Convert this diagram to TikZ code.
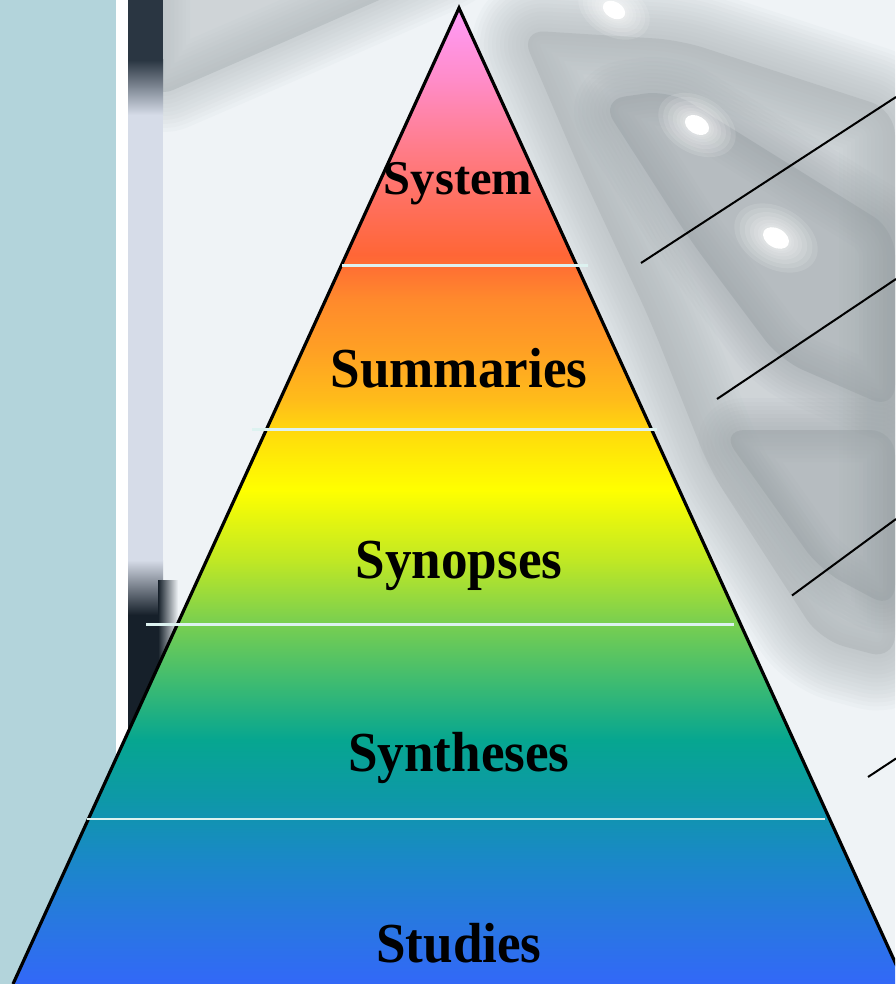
\documentclass[tikz,border=0pt]{standalone}
\usepackage{fontspec}
\setmainfont{Liberation Serif}
\newfontfamily\pyrfont[FakeStretch=0.94]{Liberation Serif}
\usetikzlibrary{calc}
\definecolor{panel}{HTML}{B3D4DB}
\definecolor{photobg}{HTML}{EFF3F6}
\definecolor{stripdark}{HTML}{2A3642}
\definecolor{stripdeep}{HTML}{16202A}
\definecolor{striplight}{HTML}{D6DCE8}
\definecolor{greyA}{HTML}{A9B0B3}
\definecolor{greyB}{HTML}{98A0A4}
\definecolor{sepline}{HTML}{DDF2F0}
% pyramid gradient colours (top to bottom)
\definecolor{p008}{HTML}{FF9CFA}
\definecolor{p080}{HTML}{FF8CC8}
\definecolor{p150}{HTML}{FF7C88}
\definecolor{p200}{HTML}{FF7060}
\definecolor{p255}{HTML}{FF6636}
\definecolor{p300}{HTML}{FF8A2C}
\definecolor{p350}{HTML}{FFA024}
\definecolor{p400}{HTML}{FFBC1A}
\definecolor{p440}{HTML}{FFE00A}
\definecolor{p490}{HTML}{FFFF00}
\definecolor{p560}{HTML}{C0E824}
\definecolor{p620}{HTML}{7CD04E}
\definecolor{p680}{HTML}{40BC70}
\definecolor{p740}{HTML}{06A690}
\definecolor{p800}{HTML}{0E98A8}
\definecolor{p860}{HTML}{1A88C8}
\definecolor{p920}{HTML}{2878E0}
\definecolor{p984}{HTML}{3268F8}
\pgfdeclareverticalshading{pyrshade}{100bp}{%
color(0bp)=(p984); color(25bp)=(p984);
color(28.28bp)=(p920); color(31.35bp)=(p860);
color(34.43bp)=(p800); color(37.5bp)=(p740);
color(40.57bp)=(p680); color(43.65bp)=(p620);
color(46.72bp)=(p560); color(50.31bp)=(p490);
color(52.87bp)=(p440); color(54.92bp)=(p400);
color(57.48bp)=(p350); color(60.04bp)=(p300);
color(62.35bp)=(p255); color(65.16bp)=(p200);
color(67.73bp)=(p150); color(71.31bp)=(p080);
color(75bp)=(p008); color(100bp)=(p008)}
\newcommand\softshape[3]{%
  \foreach \w in {#3}{\draw[#1,opacity=0.06,line width=\w pt,line join=round,rounded corners=25pt] #2 -- cycle;}
  \fill[#1,opacity=0.45,rounded corners=25pt] #2 -- cycle;}
\newcommand\glowspot[3]{% centre, x radius, rotation
  \foreach \k in {3.2,2.8,2.4,2.0,1.7,1.4,1.2}{\fill[white,opacity=0.12,rotate around={#3:#1}] #1 ellipse [x radius=\k*#2 pt,y radius=0.68*\k*#2 pt];}
  \fill[white,rotate around={#3:#1}] #1 ellipse [x radius=#2 pt,y radius=0.68*#2 pt];}
\begin{document}
\begin{tikzpicture}[x=1pt,y=-1pt,
  layertext/.style={inner sep=0pt,anchor=base,text=black,font=\pyrfont\bfseries\fontsize{56.5}{60}\selectfont},
  toptext/.style={inner sep=0pt,anchor=base,text=black,font=\bfseries\fontsize{48.5}{52}\selectfont},
  separator/.style={draw=sepline,line width=2.8pt},
  leader/.style={draw=black,line width=2pt},
  outline/.style={draw=black,line width=3.2pt,line join=miter}]
\useasboundingbox (0,0) rectangle (895,984);
\begin{scope}
\clip (0,0) rectangle (895,984);
% photo background
\fill[photobg] (128,0) rectangle (895,984);
\softshape{greyA}{(150,-40) -- (470,-40) -- (300,35) -- (150,100)}{8,16,...,80}
\softshape{greyA}{(520,30) -- (680,40) -- (895,110) -- (895,660) -- (820,640) -- (710,470) -- (650,320) -- (580,170)}{8,16,...,112}
\softshape{greyB}{(600,100) -- (670,90) -- (895,230) -- (895,410) -- (780,360) -- (690,240)}{8,16,...,72}
\softshape{greyB}{(720,430) -- (895,430) -- (895,610) -- (820,570)}{8,16,...,64}
\glowspot{(697,125)}{13}{-30}
\glowspot{(776,238)}{14}{-30}
\glowspot{(614,10)}{12}{-30}
% left strips
\fill[panel] (0,0) rectangle (116,984);
\fill[white] (116,0) rectangle (128,984);
\fill[striplight] (128,0) rectangle (163,984);
\shade[top color=stripdark,bottom color=striplight] (128,60) rectangle (163,115);
\fill[stripdark] (128,0) rectangle (163,60);
\shade[top color=striplight,bottom color=stripdeep] (128,560) rectangle (163,615);
\fill[stripdeep] (128,615) rectangle (163,984);
\shade[left color=stripdeep,right color=photobg] (158,580) rectangle (178,984);
% pyramid
\coordinate (apex) at (459,8);
\coordinate (bl) at (13,984);
\coordinate (br) at (905,984);
\shade[shading=pyrshade] (apex) -- (br) -- (bl) -- cycle;
\draw[outline] (bl) -- (apex) -- (br);
\end{scope}
% separators
\coordinate (s1a) at (342,265.5); \coordinate (s1b) at (588,265.5);
\coordinate (s2a) at (252,429.5); \coordinate (s2b) at (657,429.5);
\coordinate (s3a) at (146,624.3); \coordinate (s3b) at (734,624.3);
\coordinate (s4a) at (87,819);   \coordinate (s4b) at (825,819);
\draw[separator] (s1a) -- (s1b);
\draw[separator] (s2a) -- (s2b);
\draw[separator] (s3a) -- (s3b);
\draw[separator] (s4a) -- (s4b);
% labels
\node[toptext] (system) at (458,195) {System};
\node[layertext] (summaries) at (459,387) {Summaries};
\node[layertext] (synopses) at (459,578) {Synopses};
\node[layertext] (syntheses) at (459,771) {Syntheses};
\node[layertext] (studies) at (459,962) {Studies};
% leader lines
\coordinate (l1a) at (641,263); \coordinate (l1b) at (896,97);
\coordinate (l2a) at (717,399); \coordinate (l2b) at (896,279);
\coordinate (l3a) at (792,595.5); \coordinate (l3b) at (896,519);
\coordinate (l4a) at (868,777); \coordinate (l4b) at (896,758.5);
\draw[leader] (l1a) -- (l1b);
\draw[leader] (l2a) -- (l2b);
\draw[leader] (l3a) -- (l3b);
\draw[leader] (l4a) -- (l4b);
\end{tikzpicture}
\end{document}
